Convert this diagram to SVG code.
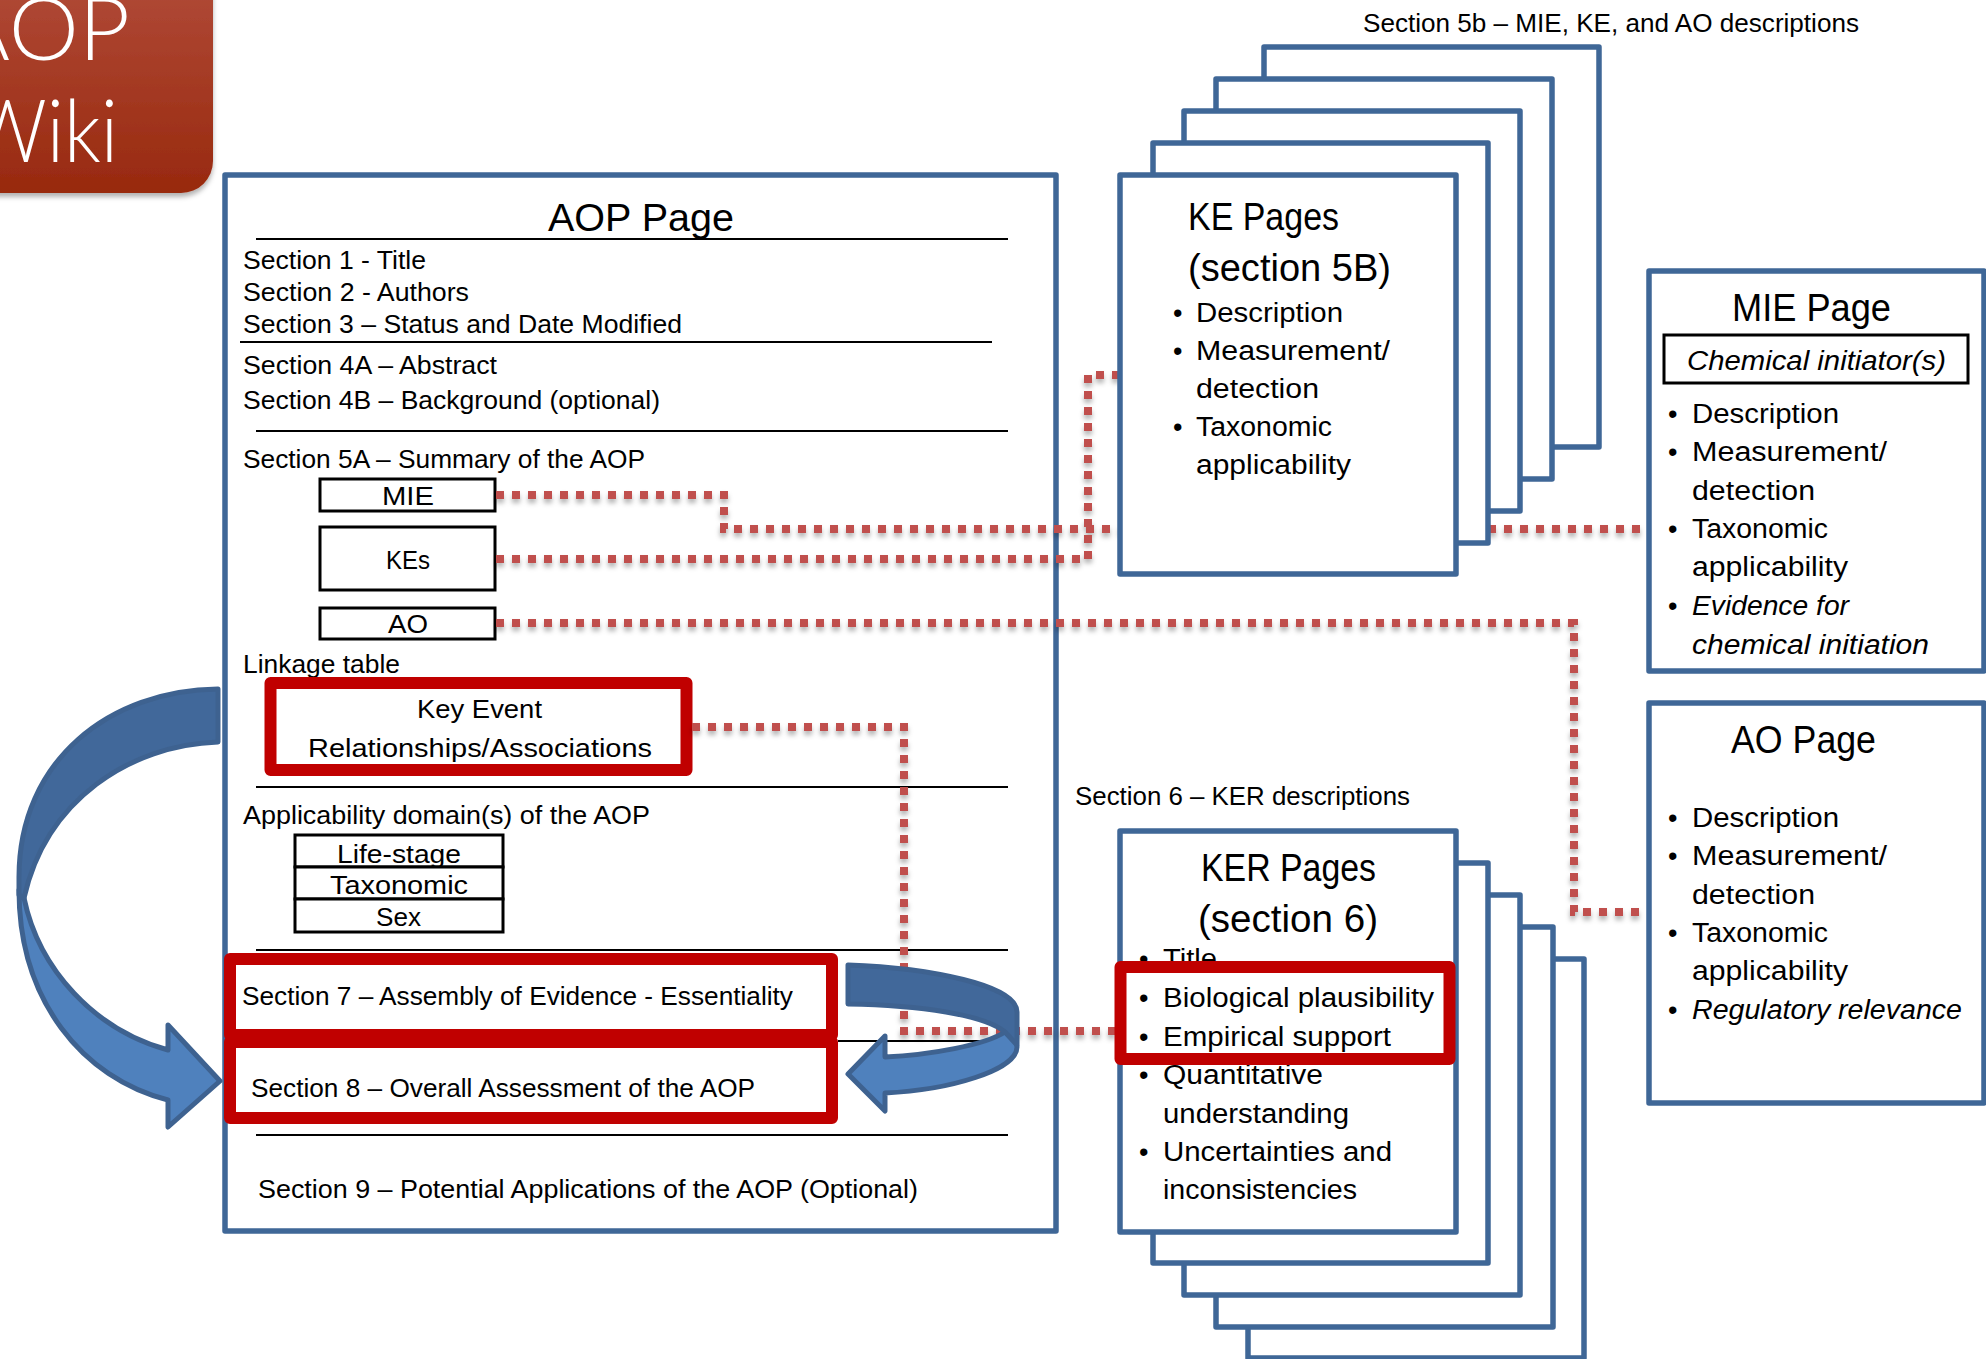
<svg xmlns="http://www.w3.org/2000/svg" width="1986" height="1359" viewBox="0 0 1986 1359">
<style>
text{font-family:"Liberation Sans",Arial,sans-serif;fill:#000}
.s{font-size:26px}
.b{font-size:27px}
.t{font-size:38px}
.box{fill:#fff;stroke:#3F6797;stroke-width:5.5;stroke-linejoin:round}
.rule{stroke:#000;stroke-width:2;fill:none}
.thin{fill:#fff;stroke:#000;stroke-width:3}
.red{fill:none;stroke:#C00000;stroke-width:12;stroke-linejoin:round}
.dot{fill:none;stroke:#C0504D;stroke-width:8;stroke-dasharray:8 8}
.i{font-style:italic}
.dk{fill:#41689A;stroke:#3E6290;stroke-width:5;stroke-linejoin:round}
.lt{fill:#4F81BD;stroke:#3E6290;stroke-width:5;stroke-linejoin:round}
</style>
<defs>
<linearGradient id="wiki" x1="0" y1="0" x2="0" y2="1"><stop offset="0" stop-color="#B5503F"/><stop offset="1" stop-color="#98290E"/></linearGradient>
<filter id="sh" x="-10%" y="-10%" width="120%" height="120%"><feDropShadow dx="0" dy="4" stdDeviation="2.500" flood-color="#000" flood-opacity="0.3"/></filter>
</defs>
<rect width="1986" height="1359" fill="#fff"/>
<g id="wiki-badge">
<rect x="-60" y="-60" width="273" height="253" rx="32" fill="url(#wiki)" filter="url(#sh)"/>
<text x="-48" y="60" font-size="86" font-weight="300" style="font-family:Lato,'Liberation Sans',sans-serif;fill:#fff" textLength="178" lengthAdjust="spacingAndGlyphs">AOP</text>
<text x="-32" y="162" font-size="86" font-weight="300" style="font-family:Lato,'Liberation Sans',sans-serif;fill:#fff" textLength="150" lengthAdjust="spacingAndGlyphs">Wiki</text>
</g>
<g id="aop-page">
<rect class="box" x="225" y="175" width="831" height="1056"/>
<text class="t" x="548" y="231" textLength="186" lengthAdjust="spacingAndGlyphs">AOP Page</text>
<path class="rule" d="M256 239H1008M240 342H992M256 431H1008M256 787H1008M256 950H1008M838 1041H1008M256 1135H1008"/>
<text class="s" x="243" y="269" textLength="183" lengthAdjust="spacingAndGlyphs">Section 1 - Title</text>
<text class="s" x="243" y="301" textLength="226" lengthAdjust="spacingAndGlyphs">Section 2 - Authors</text>
<text class="s" x="243" y="333" textLength="439" lengthAdjust="spacingAndGlyphs">Section 3 – Status and Date Modified</text>
<text class="s" x="243" y="374" textLength="254" lengthAdjust="spacingAndGlyphs">Section 4A – Abstract</text>
<text class="s" x="243" y="409" textLength="417" lengthAdjust="spacingAndGlyphs">Section 4B – Background (optional)</text>
<text class="s" x="243" y="468" textLength="402" lengthAdjust="spacingAndGlyphs">Section 5A – Summary of the AOP</text>
<text class="s" x="243" y="673" textLength="157" lengthAdjust="spacingAndGlyphs">Linkage table</text>
<text class="s" x="243" y="824" textLength="407" lengthAdjust="spacingAndGlyphs">Applicability domain(s) of the AOP</text>
<text class="s" x="242" y="1005" textLength="551" lengthAdjust="spacingAndGlyphs">Section 7 – Assembly of Evidence - Essentiality</text>
<text class="s" x="251" y="1097" textLength="504" lengthAdjust="spacingAndGlyphs">Section 8 – Overall Assessment of the AOP</text>
<text class="s" x="258" y="1198" textLength="660" lengthAdjust="spacingAndGlyphs">Section 9 – Potential Applications of the AOP (Optional)</text>
</g>
<g id="mie-item"><rect class="thin" x="320" y="479" width="175" height="32"/><text class="s" x="382" y="505" textLength="52" lengthAdjust="spacingAndGlyphs">MIE</text></g>
<g id="kes-item"><rect class="thin" x="320" y="527" width="175" height="63"/><text class="s" x="386" y="569" textLength="44" lengthAdjust="spacingAndGlyphs">KEs</text></g>
<g id="ao-item"><rect class="thin" x="320" y="608" width="175" height="31"/><text class="s" x="388" y="633" textLength="40" lengthAdjust="spacingAndGlyphs">AO</text></g>
<g id="domain-table">
<rect class="thin" x="295" y="835" width="208" height="32"/><rect class="thin" x="295" y="867" width="208" height="32"/><rect class="thin" x="295" y="899" width="208" height="33"/>
<text class="s" x="337" y="863" textLength="124" lengthAdjust="spacingAndGlyphs">Life-stage</text>
<text class="s" x="330" y="894" textLength="138" lengthAdjust="spacingAndGlyphs">Taxonomic</text>
<text class="s" x="376" y="926" textLength="45" lengthAdjust="spacingAndGlyphs">Sex</text>
</g>
<g id="ker-item"><rect class="red" x="270.500" y="683" width="416" height="87"/>
<text class="s" x="417" y="718" textLength="125" lengthAdjust="spacingAndGlyphs">Key Event</text>
<text class="s" x="308" y="757" textLength="344" lengthAdjust="spacingAndGlyphs">Relationships/Associations</text></g>
<g id="section-7"><rect class="red" x="230" y="959" width="602" height="76"/></g>
<g id="section-8"><rect class="red" x="230" y="1042" width="602" height="76"/></g>
<g id="connectors" filter="url(#sh)">
<path class="dot" d="M496 495H724V529H1120"/>
<path class="dot" d="M1456 529H1640"/>
<path class="dot" d="M496 559H1088V375H1120"/>
<path class="dot" d="M496 623H1574V912H1640"/>
<path class="dot" d="M692 727H904V1031H1115"/>
</g>
<g id="ke-pages">
<rect class="box" x="1264" y="47" width="335" height="400"/>
<rect class="box" x="1216" y="79" width="336" height="400"/>
<rect class="box" x="1184" y="111" width="336" height="400"/>
<rect class="box" x="1153" y="143" width="335" height="400"/>
<rect class="box" x="1120" y="175" width="336" height="399"/>
<text class="t" x="1188" y="230" textLength="151" lengthAdjust="spacingAndGlyphs">KE Pages</text>
<text class="t" x="1188" y="281" textLength="203" lengthAdjust="spacingAndGlyphs">(section 5B)</text>
<text class="b" x="1173" y="322">•</text><text class="b" x="1196" y="322" textLength="147" lengthAdjust="spacingAndGlyphs">Description</text>
<text class="b" x="1173" y="360">•</text><text class="b" x="1196" y="360" textLength="194" lengthAdjust="spacingAndGlyphs">Measurement/</text>
<text class="b" x="1196" y="398" textLength="123" lengthAdjust="spacingAndGlyphs">detection</text>
<text class="b" x="1173" y="436">•</text><text class="b" x="1196" y="436" textLength="136" lengthAdjust="spacingAndGlyphs">Taxonomic</text>
<text class="b" x="1196" y="474" textLength="155" lengthAdjust="spacingAndGlyphs">applicability</text>
</g>
<text id="section-5b-label" class="s" x="1363" y="32" textLength="496" lengthAdjust="spacingAndGlyphs">Section 5b – MIE, KE, and AO descriptions</text>
<g id="mie-page">
<rect class="box" x="1649" y="271" width="335" height="400"/>
<text class="t" x="1732" y="321" textLength="159" lengthAdjust="spacingAndGlyphs">MIE Page</text>
<rect class="thin" x="1664" y="335" width="304" height="48"/>
<text class="b i" x="1687" y="370" textLength="259" lengthAdjust="spacingAndGlyphs">Chemical initiator(s)</text>
<text class="b" x="1668" y="423">•</text><text class="b" x="1692" y="423" textLength="147" lengthAdjust="spacingAndGlyphs">Description</text>
<text class="b" x="1668" y="461">•</text><text class="b" x="1692" y="461" textLength="195" lengthAdjust="spacingAndGlyphs">Measurement/</text>
<text class="b" x="1692" y="500" textLength="123" lengthAdjust="spacingAndGlyphs">detection</text>
<text class="b" x="1668" y="538">•</text><text class="b" x="1692" y="538" textLength="136" lengthAdjust="spacingAndGlyphs">Taxonomic</text>
<text class="b" x="1692" y="576" textLength="156" lengthAdjust="spacingAndGlyphs">applicability</text>
<text class="b" x="1668" y="615">•</text><text class="b i" x="1692" y="615" textLength="157" lengthAdjust="spacingAndGlyphs">Evidence for</text>
<text class="b i" x="1692" y="654" textLength="237" lengthAdjust="spacingAndGlyphs">chemical initiation</text>
</g>
<g id="ao-page">
<rect class="box" x="1649" y="703" width="335" height="400"/>
<text class="t" x="1731" y="753" textLength="145" lengthAdjust="spacingAndGlyphs">AO Page</text>
<text class="b" x="1668" y="827">•</text><text class="b" x="1692" y="827" textLength="147" lengthAdjust="spacingAndGlyphs">Description</text>
<text class="b" x="1668" y="865">•</text><text class="b" x="1692" y="865" textLength="195" lengthAdjust="spacingAndGlyphs">Measurement/</text>
<text class="b" x="1692" y="904" textLength="123" lengthAdjust="spacingAndGlyphs">detection</text>
<text class="b" x="1668" y="942">•</text><text class="b" x="1692" y="942" textLength="136" lengthAdjust="spacingAndGlyphs">Taxonomic</text>
<text class="b" x="1692" y="980" textLength="156" lengthAdjust="spacingAndGlyphs">applicability</text>
<text class="b" x="1668" y="1019">•</text><text class="b i" x="1692" y="1019" textLength="270" lengthAdjust="spacingAndGlyphs">Regulatory relevance</text>
</g>
<text id="section-6-label" class="s" x="1075" y="805" textLength="335" lengthAdjust="spacingAndGlyphs">Section 6 – KER descriptions</text>
<g id="ker-pages">
<rect class="box" x="1248" y="959" width="336" height="399"/>
<rect class="box" x="1216" y="927" width="337" height="400"/>
<rect class="box" x="1184" y="895" width="336" height="400"/>
<rect class="box" x="1153" y="863" width="335" height="400"/>
<rect class="box" x="1120" y="831" width="336" height="401"/>
<text class="t" x="1201" y="881" textLength="175" lengthAdjust="spacingAndGlyphs">KER Pages</text>
<text class="t" x="1198" y="932" textLength="180" lengthAdjust="spacingAndGlyphs">(section 6)</text>
<text class="b" x="1139" y="968">•</text><text class="b" x="1163" y="968" textLength="54" lengthAdjust="spacingAndGlyphs">Title</text>
<text class="b" x="1139" y="1007">•</text><text class="b" x="1163" y="1007" textLength="271" lengthAdjust="spacingAndGlyphs">Biological plausibility</text>
<text class="b" x="1139" y="1046">•</text><text class="b" x="1163" y="1046" textLength="228" lengthAdjust="spacingAndGlyphs">Empirical support</text>
<text class="b" x="1139" y="1084">•</text><text class="b" x="1163" y="1084" textLength="160" lengthAdjust="spacingAndGlyphs">Quantitative</text>
<text class="b" x="1163" y="1123" textLength="186" lengthAdjust="spacingAndGlyphs">understanding</text>
<text class="b" x="1139" y="1161">•</text><text class="b" x="1163" y="1161" textLength="229" lengthAdjust="spacingAndGlyphs">Uncertainties and</text>
<text class="b" x="1163" y="1199" textLength="194" lengthAdjust="spacingAndGlyphs">inconsistencies</text>
<rect class="red" x="1120.500" y="967" width="329" height="92"/>
</g>
<g id="arrow-left">
<path class="lt" d="M24 898C39 970 95 1030 168 1050V1025L220 1081L168 1127V1100C82 1078 19 1000 19 890Z"/>
<path class="dk" d="M218 689C110 690 19 760 19 877V895L24 898C46 800 130 745 218 742Z"/>
</g>
<g id="arrow-right">
<path class="lt" d="M1005 1032C985 1045 930 1055 885 1057V1036L848 1074L885 1111V1093C950 1090 1017 1070 1017 1047C1017 1040 1010 1035 1005 1032Z"/>
<path class="dk" d="M848 965C930 968 1017 985 1017 1012V1045L1005 1032C985 1015 920 1005 848 1004Z"/>
</g>
</svg>
